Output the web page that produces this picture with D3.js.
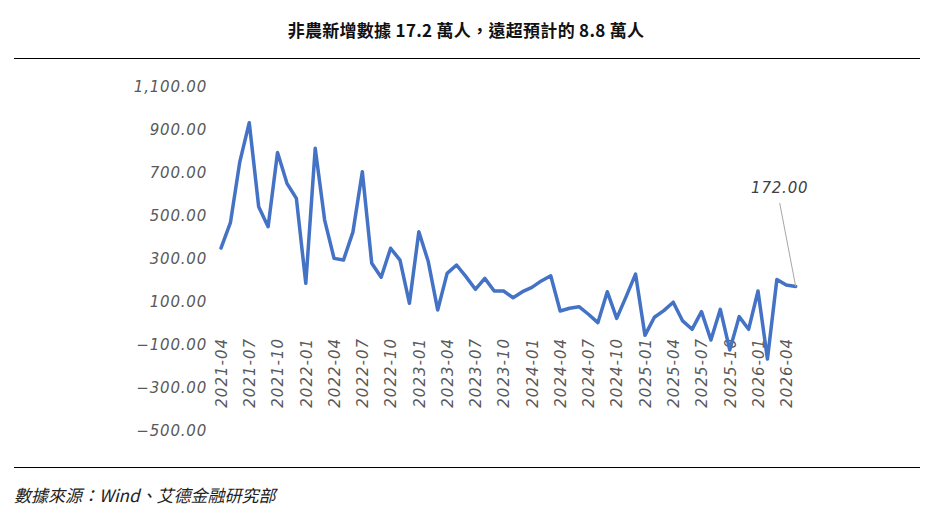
<!DOCTYPE html>
<html><head><meta charset="utf-8">
<script src="https://cdn.jsdelivr.net/npm/d3@7/dist/d3.min.js"></script>
<style>body{margin:0;background:#fff;}svg{display:block;}</style>
</head><body>
<svg id="c" width="933" height="525"></svg>
<script>
const titleText = "非農新增數據 17.2 萬人，遠超預計的 8.8 萬人";
const sourceText = "數據來源：Wind、艾德金融研究部";
const months = ["2021-04","2021-05","2021-06","2021-07","2021-08","2021-09","2021-10","2021-11","2021-12",
  "2022-01","2022-02","2022-03","2022-04","2022-05","2022-06","2022-07","2022-08","2022-09","2022-10","2022-11","2022-12",
  "2023-01","2023-02","2023-03","2023-04","2023-05","2023-06","2023-07","2023-08","2023-09","2023-10","2023-11","2023-12",
  "2024-01","2024-02","2024-03","2024-04","2024-05","2024-06","2024-07","2024-08","2024-09","2024-10","2024-11","2024-12",
  "2025-01","2025-02","2025-03","2025-04","2025-05","2025-06","2025-07","2025-08","2025-09","2025-10","2025-11","2025-12",
  "2026-01","2026-02","2026-03","2026-04","2026-05"];
const values = [351,469,753,934,543,450,795,652,582,187,815,481,303,295,425,706,280,215,350,295,94,427,288,63,233,272,218,159,210,151,151,120,148,168,198,222,58,71,78,43,4,148,24,125,230,-55,29,60,99,12,-27,55,-77,66,-123,32,-27,151,-165,205,179,172];
const yTicks = [-500,-300,-100,100,300,500,700,900,1100];
const xTickLabels = months.filter((d,i)=>i%3===0);
const annotateIndex = values.length - 1;

const svg = d3.select("#c");
const fmt = d3.format(",.2f");
const font = "'DejaVu Sans', sans-serif";

svg.append("text").attr("x",466).attr("y",37).attr("text-anchor","middle")
  .attr("font-family","'Noto Sans CJK TC', sans-serif").attr("font-size",17).attr("font-weight","bold")
  .attr("letter-spacing","0.3px").attr("fill","#111").text(titleText);
svg.append("line").attr("x1",14).attr("x2",920).attr("y1",58.5).attr("y2",58.5).attr("stroke","#000").attr("stroke-width",1);
svg.append("line").attr("x1",14).attr("x2",920).attr("y1",467.5).attr("y2",467.5).attr("stroke","#000").attr("stroke-width",1);
svg.append("text").attr("x",14).attr("y",502).attr("font-family","'Noto Sans CJK TC', sans-serif")
  .attr("font-size",17).attr("font-style","italic").attr("fill","#222").text(sourceText);

const x = d3.scalePoint().domain(months).range([221, 795.7]);
const y = d3.scaleLinear().domain([-500,1100]).range([431, 87]);

const yAxis = d3.axisLeft(y).tickValues(yTicks).tickFormat(fmt).tickSize(0).tickPadding(0);
const gy = svg.append("g").attr("transform","translate(207,0)").call(yAxis);
gy.select(".domain").remove();
gy.selectAll("text").attr("font-family",font).attr("font-size",15).attr("letter-spacing","0.8px")
  .attr("font-style","italic").attr("fill","#595959");

const xAxis = d3.axisBottom(x).tickValues(xTickLabels).tickSize(0).tickPadding(0);
const gx = svg.append("g").attr("transform","translate(0,335)").call(xAxis);
gx.select(".domain").remove();
gx.selectAll("text").attr("font-family",font).attr("font-size",15).attr("letter-spacing","1px")
  .attr("font-style","italic").attr("fill","#595959")
  .attr("text-anchor","end").attr("dy","0.35em").attr("transform","rotate(-90)").attr("x",-3).attr("y",0);

const line = d3.line().x((d,i)=>x(months[i])).y(d=>y(d));
svg.append("path").datum(values).attr("d",line).attr("fill","none").attr("stroke","#4472C4")
  .attr("stroke-width",3.5).attr("stroke-linejoin","round").attr("stroke-linecap","round");

const ax = x(months[annotateIndex]), ay = y(values[annotateIndex]);
svg.append("line").attr("x1",ax).attr("y1",ay).attr("x2",ax-16).attr("y2",203).attr("stroke","#a6a6a6").attr("stroke-width",1);
svg.append("text").attr("x",ax-16).attr("y",193).attr("text-anchor","middle").attr("font-family",font)
  .attr("font-size",15).attr("letter-spacing","0.8px").attr("font-style","italic").attr("fill","#404040").text(fmt(values[annotateIndex]));
</script>
</body></html>
